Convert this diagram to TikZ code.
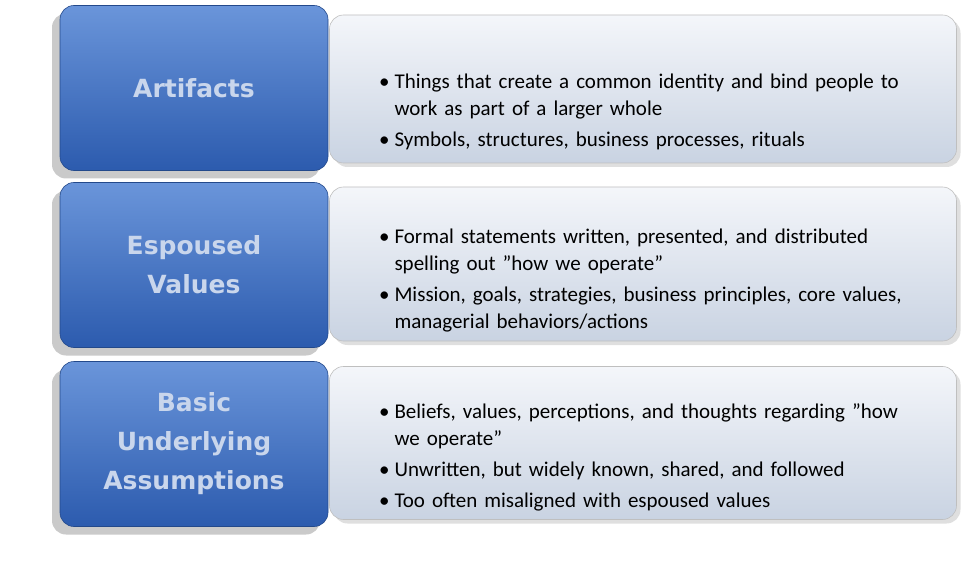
\documentclass[tikz,border=0pt]{standalone}
\usepackage{fontspec}
\setmainfont{Carlito}
\newfontfamily\headfont{DejaVu Sans}
\usetikzlibrary{shadows,positioning}
\definecolor{bluetop}{HTML}{6A95DA}
\definecolor{bluebot}{HTML}{2C5BAE}
\definecolor{greytop}{HTML}{F4F6FA}
\definecolor{greybot}{HTML}{C9D3E2}
\definecolor{headtext}{HTML}{C9D6EC}
\tikzset{
  layerbox/.style={rounded corners=14pt, top color=bluetop, bottom color=bluebot,
    draw=bluebot!80!black, line width=0.6pt,
    drop shadow={shadow xshift=-8pt, shadow yshift=-8pt, opacity=0.35, fill=black!60},
    minimum width=268pt, minimum height=165pt, align=center,
    font=\headfont\bfseries\fontsize{25}{39}\selectfont, text=headtext},
  notebox/.style={rounded corners=14pt, top color=greytop, bottom color=greybot,
    draw=black!25, line width=0.6pt,
    drop shadow={shadow xshift=4pt, shadow yshift=-4pt, opacity=0.25},
    minimum width=627pt, minimum height=150pt},
  notes/.style={anchor=north west, text width=540pt, align=left,
    font=\fontsize{21}{27}\selectfont},
}
\begin{document}
\begin{tikzpicture}[x=1pt,y=-1pt]
\useasboundingbox (0,0) rectangle (961,580);

% right-hand panels first, so the blue boxes sit on top
\node[notebox, minimum height=148pt] (n1) at (643,89) {};
\node[notebox, minimum height=154pt] (n2) at (643,264) {};
\node[notebox, minimum height=153pt] (n3) at (643,443) {};

\node[layerbox] (l1) at (194,88) {Artifacts};
\node[layerbox] (l2) at (194,265) {Espoused\\Values};
\node[layerbox] (l3) at (194,444) {Basic\\Underlying\\Assumptions};

\node[notes] (t1) at (366,50) {
\begin{itemize}\setlength{\itemsep}{0pt}
\item Things that create a common identity and bind people to work as part of a larger whole
\item Symbols, structures, business processes, rituals
\end{itemize}};
\node[notes] (t2) at (366,205) {
\begin{itemize}\setlength{\itemsep}{0pt}
\item Formal statements written, presented, and distributed spelling out "how we operate"
\item Mission, goals, strategies, business principles, core values, managerial behaviors/actions
\end{itemize}};
\node[notes] (t3) at (366,380) {
\begin{itemize}\setlength{\itemsep}{0pt}
\item Beliefs, values, perceptions, and thoughts regarding "how we operate"
\item Unwritten, but widely known, shared, and followed
\item Too often misaligned with espoused values
\end{itemize}};
\end{tikzpicture}
\end{document}
